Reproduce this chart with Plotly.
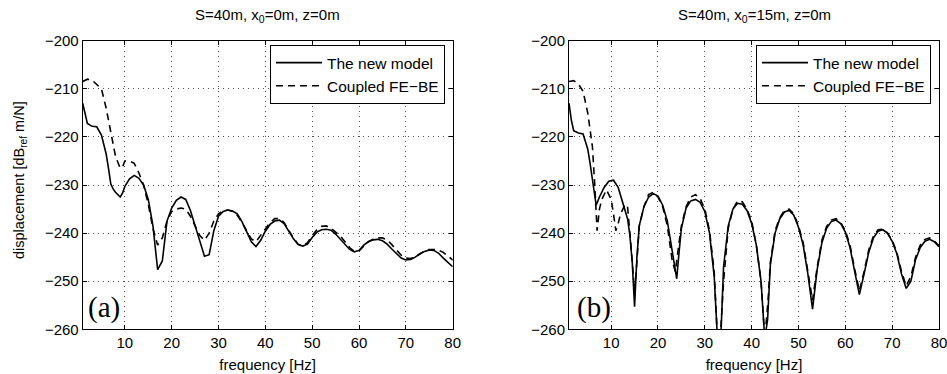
import plotly.graph_objects as go

# ---------------- data ----------------
# (a) S=40m, x0=0m, z=0m
freq_a_new = [1, 1.5, 2, 3, 4, 5, 6, 6.5, 7, 7.5, 8, 9, 9.5, 10, 11, 12, 13, 14, 15, 16, 16.5, 17, 18, 18.5,
              19, 20, 21, 22, 23, 24, 25, 26, 27, 28, 29, 30, 31, 32, 33, 34, 35, 36, 37, 38, 39, 40,
              41, 42, 43, 44, 45, 46, 47, 48, 49, 50, 51, 52, 53, 54, 55, 56, 57, 58, 59, 60,
              61, 62, 63, 64, 65, 66, 67, 68, 69, 70, 71, 72, 73, 74, 75, 76, 77, 78, 79, 80]
disp_a_new = [-213, -215.5, -217.2, -217.8, -217.9, -219.6, -223.5, -226.5, -229.8, -230.8, -231.5, -232.5,
              -231.7, -230.3, -228.7, -228, -228.6, -230, -233, -238.5, -243, -247.6, -245.8, -241,
              -237.5, -234.8, -233.2, -232.5, -233, -235.3, -238.5, -242, -244.8, -244.5, -239.5, -236.5,
              -235.5, -235.2, -235.4, -236, -237.6, -239.7, -241.8, -242.8, -241.5, -239.6,
              -238.2, -237.5, -237.3, -238, -239.5, -241.2, -242.4, -242.7, -242.3, -240.9,
              -239.8, -239.3, -239.2, -239.4, -240.2, -241.3, -242.5, -243.4, -243.9, -243.6,
              -242.5, -241.8, -241.4, -241.3, -241.6, -242.3, -243.3, -244.3, -245.2, -245.6,
              -245.5, -245, -244.3, -243.8, -243.5, -243.6, -244.2, -245.2, -246.2, -247]

freq_a_febe = [1, 2, 3, 4, 5, 6, 7, 8, 9, 9.5, 10, 11, 12, 13, 14, 15, 16, 17, 18, 19, 20,
               21, 22, 23, 24, 25, 26, 27, 28, 29, 30, 31, 32, 33, 34, 35, 36, 37, 38, 39, 40,
               41, 42, 43, 44, 45, 46, 47, 48, 49, 50, 51, 52, 53, 54, 55, 56, 57, 58, 59, 60,
               61, 62, 63, 64, 65, 66, 67, 68, 69, 70, 71, 72, 73, 74, 75, 76, 77, 78, 79, 80]
disp_a_febe = [-208.5, -208, -208.2, -209, -210, -214, -219, -224, -226.5, -226.3, -225, -225, -225.5,
               -227.5, -230, -234, -239, -242.5, -241, -237.5, -235.5,
               -235, -234.8, -235, -236.5, -238.5, -240.5, -241.5, -240, -237.5, -236,
               -235.3, -235.2, -235.5, -236.3, -237.8, -239.5, -241.2, -241.8, -240.5, -239,
               -237.8, -237, -237, -237.8, -239.5, -241, -242.3, -242.6, -242, -240.5,
               -239.3, -238.6, -238.5, -239, -239.8, -240.6, -241.8, -243, -243.8, -243.7,
               -242.7, -241.8, -241.3, -241, -241, -241.4, -242.4, -243.6, -244.6, -245.2,
               -245.3, -245, -244.3, -243.7, -243.4, -243.4, -243.6, -244, -244.8, -245.6]

# (b) S=40m, x0=15m, z=0m
freq_b_new = [1, 1.5, 2, 3, 4, 5, 5.5, 6, 6.5, 6.8, 7.5, 8.5, 9.5, 10.5, 11.5, 12.5, 13.5, 14, 14.5, 15,
              15.5, 16, 17, 18, 19, 20, 21, 22, 23, 23.5, 24, 24.5, 25, 26, 27, 28, 29, 30, 31, 32,
              32.7, 33.4, 34, 35, 36, 37, 38, 39, 40, 41, 42, 42.8, 43.4, 44, 45, 46, 47, 48, 49, 50,
              51, 52, 53, 54, 55, 56, 57, 58, 59, 60, 61, 62, 63, 64, 65, 66, 67, 68, 69, 70,
              71, 72, 73, 74, 75, 76, 77, 78, 79, 80]
disp_b_new = [-213, -216.5, -218.7, -219.2, -219.4, -222.5, -225.5, -229, -232, -234.2, -232.5, -230.5,
              -229.2, -229, -230.5, -233.5, -237, -240.5, -246, -255.3,
              -245, -238.5, -234.5, -232.5, -231.8, -232.3, -234.2, -237.5, -243.5, -247, -249.5,
              -244, -239, -234.8, -233.3, -233, -233.6, -235.5, -240, -249,
              -262, -262, -247, -238.5, -235, -233.8, -234, -235.3, -238, -242.5, -250, -262, -258,
              -246.5, -240, -237, -235.6, -235.3, -236.3, -238.8,
              -242.5, -248.5, -255.8, -247.5, -242, -239, -237.6, -237.3, -238, -239.8,
              -243, -248, -252.8, -248.5, -244, -241, -239.6, -239.3, -240, -241.7,
              -244.3, -248.5, -251.5, -250, -245.5, -243, -241.7, -241.3, -241.8, -242.8]

freq_b_febe = [1, 2, 3, 4, 5, 6, 6.5, 7, 7.5, 8, 9, 10, 10.5, 11, 11.5, 12, 13, 13.5, 14, 14.5, 15, 15.5,
               16, 17, 18, 19, 20, 21, 22, 23, 23.7, 24.5, 25, 26, 27, 28, 29, 30, 31, 32, 32.7, 33.3,
               34, 35, 36, 37, 38, 39, 40, 41, 42, 42.8, 43.5, 44, 45, 46, 47, 48, 49, 50,
               51, 52, 53, 54, 55, 56, 57, 58, 59, 60, 61, 62, 63, 64, 65, 66, 67, 68, 69, 70,
               71, 72, 73, 74, 75, 76, 77, 78, 79, 80]
disp_b_febe = [-208.5, -208.3, -209, -210.5, -215, -222, -230, -239.5, -235, -233, -231, -233, -236,
               -239.5, -238, -236, -234, -234.5, -240, -247, -252, -246,
               -238.5, -234.5, -232, -231.5, -232.5, -234.5, -238.5, -245.5, -248, -242, -238.5,
               -234.5, -232.5, -232, -232.8, -235, -239.5, -248, -262, -262,
               -250, -239, -235, -233.3, -233.5, -235, -237.5, -242.5, -250, -262, -254, -246,
               -239.5, -236.8, -235.3, -235, -236, -238.5,
               -242, -248, -254, -247, -241.5, -238.6, -237.3, -237, -237.8, -239.5,
               -242.5, -247.5, -252, -248, -243.5, -240.6, -239.3, -239.2, -240, -241.5,
               -244, -248, -251, -249, -245, -242.5, -241.3, -241, -241.7, -242.6]

x_ticks = [10, 20, 30, 40, 50, 60, 70, 80]
y_ticks = [-260, -250, -240, -230, -220, -210, -200]
titles = ["S=40m, x<sub>0</sub>=0m, z=0m", "S=40m, x<sub>0</sub>=15m, z=0m"]
panel_labels = ["(a)", "(b)"]
series_names = ["The new model", "Coupled FE\u2212BE"]

# ---------------- figure ----------------
FONT = "Liberation Sans, Arial, Helvetica, sans-serif"
FS = 15
W, H = 947, 374
fig = go.Figure()

panels = [
    dict(xa="x", ya="y", leg="legend", new=(freq_a_new, disp_a_new), fe=(freq_a_febe, disp_a_febe)),
    dict(xa="x2", ya="y2", leg="legend2", new=(freq_b_new, disp_b_new), fe=(freq_b_febe, disp_b_febe)),
]
for p in panels:
    fig.add_trace(go.Scatter(x=p["new"][0], y=p["new"][1], mode="lines", name=series_names[0],
                             xaxis=p["xa"], yaxis=p["ya"], legend=p["leg"],
                             line=dict(color="black", width=1.6)))
    fig.add_trace(go.Scatter(x=p["fe"][0], y=p["fe"][1], mode="lines", name=series_names[1],
                             xaxis=p["xa"], yaxis=p["ya"], legend=p["leg"],
                             line=dict(color="black", width=1.6, dash="7px,5px")))

ydom = [1 - 329.3 / H, 1 - 40.7 / H]
xdom1 = [82.7 / W, 452.7 / W]
xdom2 = [569 / W, 939 / W]

axis_common = dict(
    showline=True, linecolor="black", linewidth=1, mirror="ticks",
    ticks="inside", ticklen=4, tickcolor="black", tickwidth=1,
    showgrid=True, gridcolor="rgba(0,0,0,0.7)", griddash="1px,4px", gridwidth=1,
    zeroline=False, tickfont=dict(family=FONT, size=FS, color="black"),
    ticklabeloverflow="allow", automargin=False,
)
xcommon = dict(axis_common, range=[1, 80], tickvals=x_ticks,
               title=dict(text="frequency [Hz]", font=dict(family=FONT, size=FS, color="black"), standoff=9))
ycommon = dict(axis_common, range=[-260, -200], tickvals=y_ticks)

legend_common = dict(
    bgcolor="white", bordercolor="black", borderwidth=1,
    font=dict(family=FONT, size=15.5, color="black"),
    xanchor="right", yanchor="top", tracegroupgap=0, itemwidth=46,
)

fig.update_layout(
    template="none",
    width=W, height=H, margin=dict(l=0, r=0, t=0, b=0, pad=0, autoexpand=False),
    paper_bgcolor="white", plot_bgcolor="white",
    font=dict(family=FONT, color="black"),
    xaxis=dict(xcommon, domain=xdom1, anchor="y"),
    yaxis=dict(ycommon, domain=ydom, anchor="x"),
    xaxis2=dict(xcommon, domain=xdom2, anchor="y2"),
    yaxis2=dict(ycommon, domain=ydom, anchor="x2"),
    legend=dict(legend_common, x=445 / W, y=1 - 45 / H),
    legend2=dict(legend_common, x=931 / W, y=1 - 45 / H),
    showlegend=True,
)

# titles
for xc, t in zip([(xdom1[0] + xdom1[1]) / 2, (xdom2[0] + xdom2[1]) / 2], titles):
    fig.add_annotation(text=t, x=xc, y=1 - 15 / H, xref="paper", yref="paper",
                       xanchor="center", yanchor="middle", showarrow=False,
                       font=dict(family=FONT, size=FS, color="black"))

# y-axis label (left panel only)
fig.add_annotation(text="displacement [dB<sub>ref</sub> m/N]", x=20 / W, y=1 - 180 / H,
                   xref="paper", yref="paper", xanchor="center", yanchor="middle",
                   textangle=-90, showarrow=False, font=dict(family=FONT, size=14.5, color="black"))

# panel labels
for xp, lab in zip([104 / W, 594 / W], panel_labels):
    fig.add_annotation(text=lab, x=xp, y=1 - 307 / H, xref="paper", yref="paper",
                       xanchor="center", yanchor="middle", showarrow=False,
                       font=dict(family="Liberation Serif, Times New Roman, serif", size=29, color="black"))

fig.write_html("out.html", config={"displayModeBar": False},
               post_script="document.body.style.margin='0';document.body.style.padding='0';"
                           "document.body.style.overflow='hidden';")
